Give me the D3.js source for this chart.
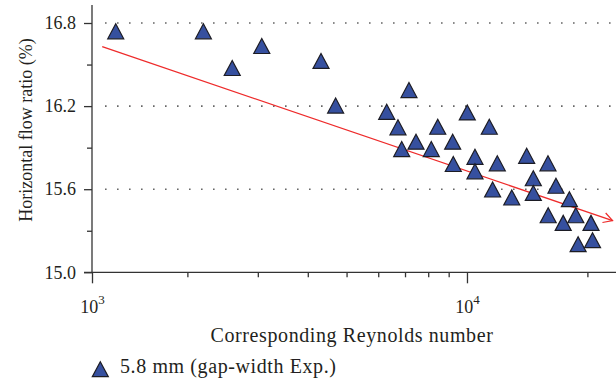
<!DOCTYPE html>
<html>
<head>
<meta charset="utf-8">
<script src="https://cdn.jsdelivr.net/npm/d3@7"></script>
<style>
  body { margin: 0; background: #fff; }
  svg { display: block; }
  text { font-family: "Liberation Serif", "DejaVu Serif", serif; fill: #231f20; }
  .axis path, .axis line { stroke: #333; stroke-width: 1.3; }
  .axis text { font-size: 18px; font-family: "Liberation Serif", serif; fill: #231f20; }
</style>
</head>
<body>
<svg id="chart" width="616" height="385"></svg>
<script>
// Reynolds number (x) and horizontal flow ratio in % (y)
const reynolds = [1324, 2193, 2589, 3069, 4316, 4695, 7161, 6300, 6722, 6868,
  7457, 8143, 8451, 9209, 9242, 10017, 10471, 10471, 11370, 11906,
  11590, 12940, 14100, 14650, 14650, 15940, 16690, 15960, 18030, 18710,
  17400, 20420, 18960, 20600];
const flowRatio = [16.74, 16.74, 16.475, 16.634, 16.526, 16.204, 16.316, 16.159, 16.047, 15.89,
  15.943, 15.89, 16.051, 15.943, 15.782, 16.154, 15.834, 15.729, 16.051, 15.787,
  15.598, 15.54, 15.841, 15.679, 15.573, 15.787, 15.625, 15.412, 15.528, 15.412,
  15.357, 15.357, 15.203, 15.232];

// fitted trend (red arrow), start and end
const trendX = [1225, 23120];
const trendY = [16.629, 15.373];

const yMajorTicks = [15.0, 15.6, 16.2, 16.8];
const yMinorTicks = [15.3, 15.9, 16.5];
const yGrid = [15.6, 16.2, 16.8];
const xMinorTicks = [2000, 3000, 4000, 5000, 6000, 7000, 8000, 9000, 20000];
const xMajorLabels = ["10|3", "10|4"];

const legendLabel = "5.8 mm (gap-width Exp.)";
const xTitle = "Corresponding Reynolds number";
const yTitle = "Horizontal flow ratio (%)";

const svg = d3.select("#chart");
const padL = 92, padR = 616, padT = 5, padB = 272.3;

const xDomain = [1155, 23580];
const x = d3.scaleLog().domain(xDomain).range([padL, padR]);
const y = d3.scaleLinear().domain([15.0, 16.93]).range([padB, padT]);
const xMajorTicks = [xDomain[0], 10000];

// dotted grid
svg.append("g").selectAll("line")
  .data(yGrid).enter().append("line")
  .attr("x1", 105).attr("x2", 612)
  .attr("y1", d => y(d)).attr("y2", d => y(d))
  .attr("stroke", "#666")
  .attr("stroke-width", 1.6)
  .attr("stroke-dasharray", "1.6,10.4");

// y axis
svg.append("g").attr("class", "axis")
  .attr("transform", `translate(${padL},0)`)
  .call(d3.axisLeft(y).tickValues(yMajorTicks).tickSize(8).tickPadding(8).tickFormat(d3.format(".1f")))
  .call(g => g.select(".domain").remove());
svg.append("g").attr("class", "axis")
  .attr("transform", `translate(${padL},0)`)
  .call(d3.axisLeft(y).tickValues(yMinorTicks).tickSize(5).tickFormat(""))
  .call(g => g.select(".domain").remove());

// x axis
const xMaj = svg.append("g").attr("class", "axis")
  .attr("transform", `translate(0,${padB})`)
  .call(d3.axisBottom(x).tickValues(xMajorTicks).tickSize(11).tickFormat((d, i) => xMajorLabels[i]))
  .call(g => g.select(".domain").remove());
xMaj.selectAll("text").each(function() {
  const parts = d3.select(this).text().split("|");
  const t = d3.select(this).text("").attr("y", 41).attr("dy", 0);
  t.append("tspan").text(parts[0]);
  t.append("tspan").attr("dy", -9).attr("font-size", "13px").text(parts[1]);
});
svg.append("g").attr("class", "axis")
  .attr("transform", `translate(0,${padB})`)
  .call(d3.axisBottom(x).tickValues(xMinorTicks).tickSize(5).tickFormat(""))
  .call(g => g.select(".domain").remove());

// axis lines
svg.append("line").attr("x1", padL).attr("x2", padL).attr("y1", padT).attr("y2", padB)
  .attr("stroke", "#333").attr("stroke-width", 1.3);
svg.append("line").attr("x1", padL - 8).attr("x2", padR).attr("y1", padB).attr("y2", padB)
  .attr("stroke", "#333").attr("stroke-width", 1.3);

// titles
svg.append("text")
  .attr("transform", "translate(32,130)rotate(-90)")
  .attr("text-anchor", "middle")
  .attr("font-size", 18)
  .text(yTitle);
svg.append("text")
  .attr("x", 352).attr("y", 341.7)
  .attr("text-anchor", "middle")
  .attr("font-size", 20)
  .attr("letter-spacing", 0.6)
  .text(xTitle);

// trend arrow
svg.append("defs").append("marker")
  .attr("id", "arrow")
  .attr("markerUnits", "userSpaceOnUse")
  .attr("markerWidth", 12).attr("markerHeight", 12)
  .attr("viewBox", "-1 -6 12 12")
  .attr("refX", 9).attr("refY", 0)
  .attr("orient", "auto")
  .append("path")
  .attr("d", "M0,-5L9,0L0,5")
  .attr("fill", "none")
  .attr("stroke", "#ee2b2b")
  .attr("stroke-width", 1.2);

svg.append("path")
  .datum(d3.zip(trendX, trendY))
  .attr("fill", "none")
  .attr("stroke", "#ee2b2b")
  .attr("stroke-width", 1.3)
  .attr("marker-end", "url(#arrow)")
  .attr("d", d3.line().x(d => x(d[0])).y(d => y(d[1])));

// triangles
const tri = "M0,-7.5L8,7.5L-8,7.5Z";
svg.append("g").selectAll("path")
  .data(d3.zip(reynolds, flowRatio)).enter().append("path")
  .attr("d", tri)
  .attr("transform", d => `translate(${x(d[0])},${y(d[1])})`)
  .attr("fill", "#36509f")
  .attr("stroke", "#1c1c24")
  .attr("stroke-width", 1.2);

// legend
svg.append("path").attr("d", tri)
  .attr("transform", "translate(100.3,369.2)")
  .attr("fill", "#36509f")
  .attr("stroke", "#1c1c24")
  .attr("stroke-width", 1.2);
svg.append("text")
  .attr("x", 120).attr("y", 373.3)
  .attr("font-size", 20)
  .attr("letter-spacing", 0.6)
  .text(legendLabel);
</script>
</body>
</html>
